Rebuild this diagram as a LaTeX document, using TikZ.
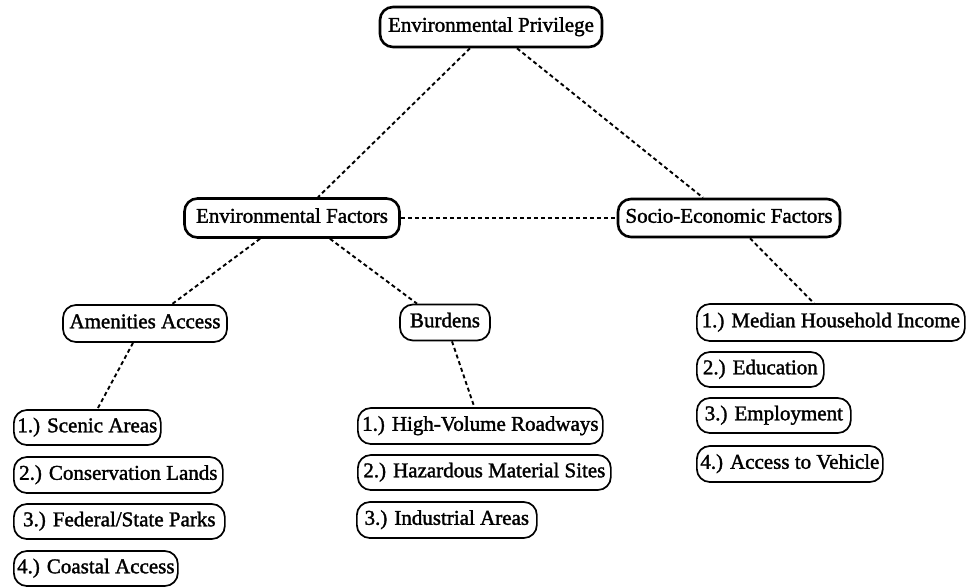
\documentclass[tikz,border=0pt]{standalone}
\usepackage{fontspec}
\setmainfont{Liberation Serif}[FakeBold=1.6]
\begin{document}
\begin{tikzpicture}[x=1pt,y=-1pt,
  box/.style={draw=black, rounded corners=13pt, inner sep=0pt, align=center,
    font=\fontsize{21}{24}\selectfont, text height=14pt, text depth=4.5pt},
  topbox/.style={box, line width=2.6pt},
  subbox/.style={box, line width=1.7pt},
  link/.style={draw=black, line width=1.9pt, dash pattern=on 4pt off 3pt}]
\useasboundingbox (0,0) rectangle (966,587);
% top level
\node[topbox, minimum width=222pt, minimum height=40pt] (EP) at (491,27) {Environmental Privilege};
\node[topbox, minimum width=215pt, minimum height=39pt] (EF) at (292,218) {Environmental Factors};
\node[topbox, minimum width=222pt, minimum height=38pt] (SEF) at (729,218) {Socio-Economic Factors};
% second level
\node[subbox, minimum width=164pt, minimum height=37pt] (AM) at (145,323.5) {Amenities Access};
\node[subbox, minimum width=90pt, minimum height=36pt] (BU) at (445,322.5) {Burdens};
% amenities list
\node[subbox, anchor=west, minimum width=147pt, minimum height=35pt] (A1) at (13,427.5) {1.) Scenic Areas};
\node[subbox, anchor=west, minimum width=209pt, minimum height=36pt] (A2) at (13,475) {2.) Conservation Lands};
\node[subbox, anchor=west, minimum width=211pt, minimum height=35pt] (A3) at (13,521.5) {3.) Federal/State Parks};
\node[subbox, anchor=west, minimum width=164pt, minimum height=35pt] (A4) at (13,568.5) {4.) Coastal Access};
% burdens list
\node[subbox, anchor=west, minimum width=245pt, minimum height=36pt] (B1) at (357,426) {1.) High-Volume Roadways};
\node[subbox, anchor=west, minimum width=253pt, minimum height=35pt] (B2) at (357,472.5) {2.) Hazardous Material Sites};
\node[subbox, anchor=west, minimum width=180pt, minimum height=36pt] (B3) at (356,520) {3.) Industrial Areas};
% socio-economic list
\node[subbox, anchor=west, minimum width=268pt, minimum height=37pt] (S1) at (696,322.5) {1.) Median Household Income};
\node[subbox, anchor=west, minimum width=127pt, minimum height=35pt] (S2) at (696,369.5) {2.) Education};
\node[subbox, anchor=west, minimum width=154pt, minimum height=35pt] (S3) at (696,415.5) {3.) Employment};
\node[subbox, anchor=west, minimum width=186pt, minimum height=36pt] (S4) at (696,464) {4.) Access to Vehicle};
% connectors
\draw[link] ([xshift=-21pt]EP.south) -- ([xshift=26pt]EF.north);
\draw[link] ([xshift=26pt]EP.south) -- ([xshift=-26pt]SEF.north);
\draw[link] (EF.east) -- (SEF.west);
\draw[link] ([xshift=-32pt]EF.south) -- ([xshift=27pt]AM.north);
\draw[link] ([xshift=38pt]EF.south) -- ([xshift=-28pt]BU.north);
\draw[link] ([xshift=-12pt]AM.south) -- ([xshift=10pt]A1.north);
\draw[link] ([xshift=7pt]BU.south) -- ([xshift=-6pt]B1.north);
\draw[link] ([xshift=21pt]SEF.south) -- ([xshift=-17pt]S1.north);
\end{tikzpicture}
\end{document}
